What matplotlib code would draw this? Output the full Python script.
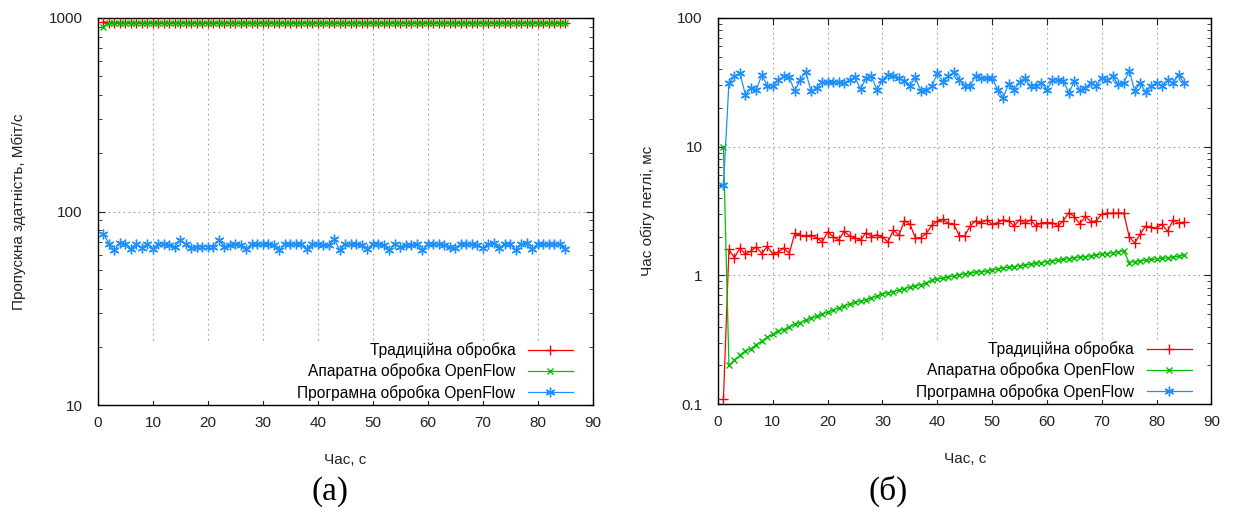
import matplotlib.pyplot as plt
from matplotlib.patches import Rectangle

plt.rcParams['font.family'] = ['Liberation Sans', 'DejaVu Sans']

# time axis, seconds
t = list(range(1, 86))

# (a) throughput, Mbit/s
thr_trad = [955] + [945] * 84
thr_hw = [900] + [942] * 84
thr_sw = [77, 68, 63, 69, 68, 64, 68, 65, 68, 64, 68, 68, 67, 66, 71, 68, 65, 66, 66, 66,
          66, 71, 66, 67, 68, 67, 64, 68, 68, 68, 68, 67, 63, 68, 68, 68, 68, 64, 68, 68,
          67, 67, 72, 63, 68, 68, 68, 67, 64, 68, 68, 67, 63, 68, 66, 67, 67, 68, 63, 68,
          68, 68, 67, 66, 65, 68, 68, 68, 67, 65, 68, 69, 65, 68, 68, 63, 68, 69, 64, 68,
          68, 68, 68, 68, 64]

# (b) round trip time, ms
rtt_trad = [0.11, 1.59, 1.37, 1.63, 1.46, 1.55, 1.67, 1.48, 1.68, 1.46, 1.52, 1.63, 1.48,
            2.12, 2.05, 2.03, 2.05, 1.96, 1.82, 2.18, 2.0, 1.88, 2.2, 2.03, 1.96, 1.88,
            2.15, 2.0, 2.07, 1.98, 1.82, 2.25, 2.05, 2.66, 2.5, 1.96, 1.96, 2.12, 2.45,
            2.63, 2.72, 2.54, 2.5, 2.03, 2.03, 2.42, 2.66, 2.54, 2.7, 2.5, 2.57, 2.7, 2.66,
            2.42, 2.7, 2.54, 2.7, 2.42, 2.57, 2.57, 2.57, 2.42, 2.66, 3.07, 2.86, 2.5, 2.9,
            2.6, 2.66, 3.0, 3.05, 3.05, 3.05, 3.05, 2.0, 1.78, 2.1, 2.42, 2.36, 2.34, 2.5,
            2.2, 2.7, 2.54, 2.6]
rtt_hw = [10, 0.20, 0.22, 0.24, 0.26, 0.27, 0.29, 0.31, 0.33, 0.35, 0.37, 0.38, 0.40, 0.42,
          0.43, 0.45, 0.47, 0.48, 0.50, 0.52, 0.54, 0.56, 0.58, 0.60, 0.62, 0.63, 0.65,
          0.67, 0.69, 0.72, 0.73, 0.75, 0.77, 0.79, 0.81, 0.83, 0.85, 0.87, 0.92, 0.94,
          0.95, 0.97, 0.99, 1.01, 1.03, 1.04, 1.06, 1.07, 1.08, 1.10, 1.12, 1.14, 1.16,
          1.17, 1.19, 1.21, 1.22, 1.24, 1.26, 1.28, 1.30, 1.31, 1.33, 1.35, 1.37, 1.39,
          1.40, 1.42, 1.44, 1.46, 1.48, 1.50, 1.52, 1.55, 1.26, 1.28, 1.30, 1.31, 1.33,
          1.34, 1.36, 1.37, 1.39, 1.41, 1.43]
rtt_sw = [5.0, 31.2, 35.1, 37.2, 25.3, 28.5, 27.7, 36.2, 29.4, 29.8, 33.0, 35.1, 34.5, 27.0,
          33.0, 38.0, 27.0, 28.5, 32.0, 31.5, 31.5, 32.0, 31.2, 33.0, 34.5, 28.0, 34.0,
          35.1, 27.5, 33.0, 36.2, 35.5, 34.0, 32.5, 29.8, 34.5, 27.0, 27.7, 29.4, 37.2,
          32.0, 35.1, 38.0, 33.0, 29.8, 29.8, 35.5, 34.0, 34.0, 34.0, 27.7, 24.0, 30.5,
          27.7, 31.5, 34.0, 29.4, 29.8, 31.2, 27.7, 33.0, 33.0, 32.5, 26.0, 32.5, 27.5,
          28.5, 31.2, 29.8, 34.0, 33.0, 35.1, 30.5, 31.2, 39.0, 27.0, 31.2, 26.5, 29.8,
          31.2, 29.4, 33.0, 31.2, 36.2, 31.2]

labels = ['Традиційна обробка', 'Апаратна обробка OpenFlow', 'Програмна обробка OpenFlow']
colors = ['#ff0000', '#00c000', '#1e8fff']
markers = ['+', 'x', (6, 2, 0)]
msizes = [7, 4.5, 7]

fig = plt.figure(figsize=(12.4, 5.11), dpi=100)
ax1 = fig.add_axes([0.079, 0.207, 0.399, 0.758])
ax2 = fig.add_axes([0.579, 0.209, 0.398, 0.756])


def style_axis(ax, series, ylim, yticks, ylabels, ylabel):
    for ys, lab, c, m, ms in zip(series, labels, colors, markers, msizes):
        ax.plot(t, ys, color=c, marker=m, markersize=ms, markeredgewidth=1,
                linewidth=0.9, label=lab, zorder=3)
    ax.set_yscale('log')
    ax.set_xlim(0, 90)
    ax.set_ylim(*ylim)
    ax.set_xticks(range(0, 91, 10))
    ax.set_yticks(yticks)
    ax.set_yticklabels(ylabels)
    ax.tick_params(which='both', direction='in', top=True, right=True,
                   labelsize=11, colors='#222222')
    ax.tick_params(axis='y', pad=11)
    ax.tick_params(axis='x', pad=8)
    ax.tick_params(which='major', length=5)
    ax.tick_params(which='minor', length=3)
    ax.set_axisbelow(True)
    ax.grid(True, which='major', linestyle=(0, (1.5, 3)), color='#a0a0a0', linewidth=0.8)
    # opaque key area like gnuplot
    ax.add_patch(Rectangle((0.012, 0.012), 0.976, 0.152, transform=ax.transAxes,
                           facecolor='white', edgecolor='none', zorder=1))
    for s in ax.spines.values():
        s.set_linewidth(1.0)
    ax.set_xlabel('Час, с', fontsize=11, labelpad=16, color='#222222')
    ax.set_ylabel(ylabel, fontsize=11, labelpad=16, color='#222222')
    ax.legend(loc='lower right', markerfirst=False, frameon=False, fontsize=11.2,
              handlelength=2.9, handletextpad=0.8, labelspacing=0.35,
              borderaxespad=0, borderpad=0, bbox_to_anchor=(0.96, 0.012))


style_axis(ax1, [thr_trad, thr_hw, thr_sw], (10, 1000), [10, 100, 1000],
           ['10', '100', '1000'], 'Пропускна здатність, Мбіт/с')
style_axis(ax2, [rtt_trad, rtt_hw, rtt_sw], (0.1, 100), [0.1, 1, 10, 100],
           ['0.1', '1', '10', '100'], 'Час обігу петлі, мс')

fig.text(0.266, 0.022, '(а)', fontsize=24, family='Liberation Serif', ha='center')
fig.text(0.716, 0.022, '(б)', fontsize=24, family='Liberation Serif', ha='center')

plt.savefig('out.png', dpi=100)
